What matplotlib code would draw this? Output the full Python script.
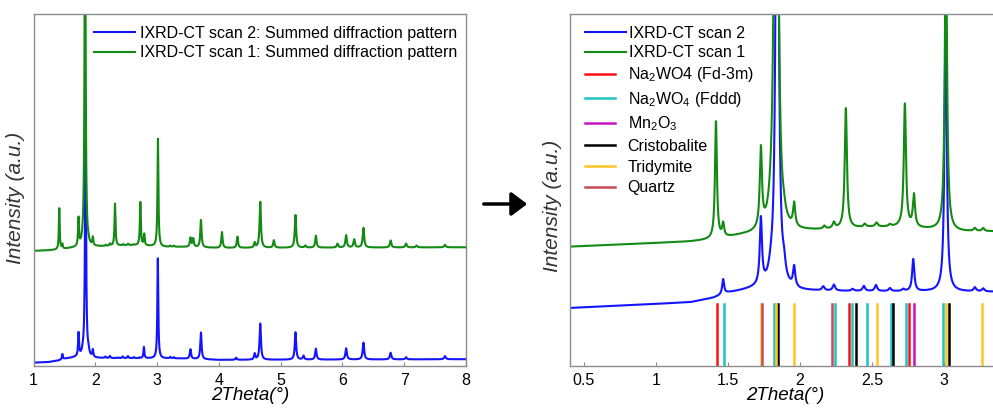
import numpy as np
import matplotlib
matplotlib.use("Agg")
import matplotlib.pyplot as plt
from matplotlib.lines import Line2D
from matplotlib.patches import FancyArrowPatch

plt.rcParams["font.family"] = ["Liberation Sans", "DejaVu Sans"]
plt.rcParams["mathtext.fontset"] = "custom"
plt.rcParams["mathtext.rm"] = "Liberation Sans"
plt.rcParams["mathtext.it"] = "Liberation Sans:italic"

# ---------------- data ----------------
# Summed diffraction patterns, described by their reflections
# (position in 2Theta deg, height, half width) and background levels.
scan2_pos = [1.467, 1.729, 1.80, 1.842, 1.89, 1.96, 2.162, 2.236, 2.366, 2.444,
             2.528, 2.625, 2.717, 2.787, 3.012, 3.215, 3.273, 3.54, 3.71, 4.28,
             4.58, 4.67, 5.24, 5.37, 5.57, 6.06, 6.34, 6.78, 7.03, 7.66]
scan2_height = [15, 66, 10, 700, 13, 20, 4, 6, 2, 5,
                6, 3, 2, 32, 285, 4, 3, 27, 76, 6,
                17, 103, 78, 11, 31, 32, 48, 19, 6, 9]
scan2_hwhm = [0.008, 0.009, 0.02, 0.010, 0.012, 0.009, 0.01, 0.01, 0.01, 0.01,
              0.01, 0.01, 0.01, 0.009, 0.009, 0.01, 0.01, 0.012, 0.012, 0.012,
              0.012, 0.013, 0.013, 0.013, 0.013, 0.014, 0.014, 0.014, 0.014, 0.015]
scan2_bg_x = [0.4, 1.0, 1.24, 1.4, 1.5, 1.68, 1.75, 2.0, 3.4, 4.0, 8.0]
scan2_bg_y = [10, 14, 15.7, 20, 25, 29, 30, 27, 26, 22, 24]

scan1_pos = [1.417, 1.467, 1.729, 1.80, 1.835, 1.89, 1.96, 2.17, 2.236, 2.319,
             2.451, 2.532, 2.625, 2.729, 2.792, 3.014, 3.215, 3.273, 3.54, 3.585,
             3.71, 4.05, 4.30, 4.58, 4.67, 4.89, 5.24, 5.40, 5.57, 5.92,
             6.06, 6.19, 6.34, 6.78, 7.03, 7.20, 7.66]
scan1_height = [117, 13, 79, 6, 1100, 5, 23, 3, 6, 120,
                3, 4, 2, 123, 32, 307, 3, 3, 26, 24,
                78, 45, 32, 14, 131, 21, 93, 6, 34, 11,
                35, 23, 56, 20, 11, 5, 7]
scan1_hwhm = [0.008, 0.008, 0.009, 0.02, 0.010, 0.012, 0.009, 0.01, 0.01, 0.009,
              0.01, 0.01, 0.01, 0.009, 0.009, 0.009, 0.01, 0.01, 0.012, 0.012,
              0.012, 0.012, 0.012, 0.012, 0.013, 0.013, 0.013, 0.013, 0.013, 0.014,
              0.014, 0.014, 0.014, 0.014, 0.014, 0.015, 0.015]
scan1_bg_x = [0.4, 1.0, 1.24, 1.38, 1.6, 1.7, 2.05, 2.2, 2.5, 2.7, 3.1, 3.4, 4.0, 6.0, 8.0]
scan1_bg_y = [10, 13.6, 15, 16.7, 21, 22, 25.7, 26.7, 29.4, 29.4, 25, 25, 22, 23, 24]

# Reference reflections of the candidate phases (2Theta deg)
ref_na2wo4_fd3m = [1.421, 2.338, 2.757]
ref_na2wo4_fddd = [1.474, 1.819, 2.243, 2.363, 2.467, 2.630, 2.734, 2.991]
ref_mn2o3 = [2.792]
ref_cristobalite = [1.847, 2.393, 2.648, 3.033]
ref_tridymite = [1.727, 1.833, 1.960, 2.533, 3.012, 3.266]
ref_quartz = [1.738, 2.224]

left_ticks = [1, 2, 3, 4, 5, 6, 7, 8]
left_ticklabels = ["1", "2", "3", "4", "5", "6", "7", "8"]
right_ticks = [0.5, 1, 1.5, 2, 2.5, 3]
right_ticklabels = ["0.5", "1", "1.5", "2", "2.5", "3"]


def pattern(x, pos, height, hwhm, bg_x, bg_y):
    y = np.interp(x, bg_x, bg_y)
    for p, h, g in zip(pos, height, hwhm):
        y = y + h / (1.0 + ((x - p) / g) ** 2)
    return y


tt = np.arange(0.4, 8.0005, 0.0005)
scan1 = pattern(tt, scan1_pos, scan1_height, scan1_hwhm, scan1_bg_x, scan1_bg_y)
scan2 = pattern(tt, scan2_pos, scan2_height, scan2_hwhm, scan2_bg_x, scan2_bg_y)

# ---------------- figure ----------------
W, H = 993, 408
fig = plt.figure(figsize=(W / 100, H / 100), dpi=100)
axL = fig.add_axes([33.5 / W, 42 / H, 432.5 / W, 352 / H])
axR = fig.add_axes([569.5 / W, 42 / H, 432 / W, 352 / H])

BLUE = "#1414ff"
GREEN = "#138a13"
SPINE = "#8c8c8c"

for ax in (axL, axR):
    for s in ax.spines.values():
        s.set_color(SPINE)
        s.set_linewidth(1.0)
    ax.tick_params(axis="x", direction="in", length=3, width=0.8, color=SPINE,
                   labelsize=11.5, pad=5)
    ax.tick_params(axis="y", left=False, labelleft=False)
    ax.set_xlabel("2Theta(°)", fontsize=13.5, style="italic")
    ax.set_ylabel("Intensity (a.u.)", fontsize=15, style="italic", color="#333333")

# left panel: full range
axL.plot(tt, scan2, color=BLUE, lw=1.5, label="IXRD-CT scan 2: Summed diffraction pattern")
axL.plot(tt, scan1 + 319, color=GREEN, lw=1.5, label="IXRD-CT scan 1: Summed diffraction pattern")
axL.set_xlim(1, 8)
axL.set_ylim(4.6, 4.6 + 352 * 2.85)
axL.set_xticks(left_ticks, left_ticklabels)
axL.xaxis.set_label_coords(0.5, -0.06)
axL.yaxis.set_label_coords(-0.02, 0.477)
axL.legend(loc="upper right", bbox_to_anchor=(0.995, 0.985), frameon=False,
           fontsize=11.5, handlelength=2.6, handletextpad=0.3, labelspacing=0.3,
           borderaxespad=0.2, borderpad=0.2)

# right panel: low-angle region with reference reflections
lb, = axR.plot(tt, scan2, color=BLUE, lw=1.5)
lg, = axR.plot(tt, scan1 + 61.3, color=GREEN, lw=1.5)
axR.set_xlim(0.4, 3.4)
axR.set_ylim(-48, 304)
axR.set_xticks(right_ticks, right_ticklabels)
axR.xaxis.set_label_coords(0.5, -0.06)
axR.yaxis.set_label_coords(-0.017, 0.455)

phases = [
    (ref_na2wo4_fd3m, "#ff1010", "Na$_2$WO4 (Fd-3m)"),
    (ref_na2wo4_fddd, "#1cc4c4", "Na$_2$WO$_4$ (Fddd)"),
    (ref_mn2o3, "#c414c4", "Mn$_2$O$_3$"),
    (ref_cristobalite, "#000000", "Cristobalite"),
    (ref_tridymite, "#ffc425", "Tridymite"),
    (ref_quartz, "#c84a5a", "Quartz"),
]
stick_top = 62 / 352
phase_handles = []
for refs, col, name in phases:
    for r in refs:
        axR.axvline(r, ymin=0, ymax=stick_top, color=col, lw=1.8)
    phase_handles.append(Line2D([], [], color=col, lw=1.8, label=name))

leg1 = axR.legend([lb, lg], ["IXRD-CT scan 2", "IXRD-CT scan 1"], loc="upper left",
                  bbox_to_anchor=(0.02, 0.985), frameon=False, fontsize=11.5,
                  handlelength=2.6, handletextpad=0.2, labelspacing=0.3,
                  borderaxespad=0.2, borderpad=0.2)
axR.add_artist(leg1)
axR.legend(handles=phase_handles, loc="upper left", bbox_to_anchor=(0.02, 0.872),
           frameon=False, fontsize=11.5, handlelength=1.9, handletextpad=0.8,
           labelspacing=0.35, borderaxespad=0.2, borderpad=0.2)

# arrow linking the two panels
arrow = FancyArrowPatch((481 / W, 0.5), (530 / W, 0.5), transform=fig.transFigure,
                        arrowstyle="-|>,head_length=0.6,head_width=0.45",
                        mutation_scale=16, lw=2.5, color="black")
fig.patches.append(arrow)

fig.savefig("out.png", dpi=100)
